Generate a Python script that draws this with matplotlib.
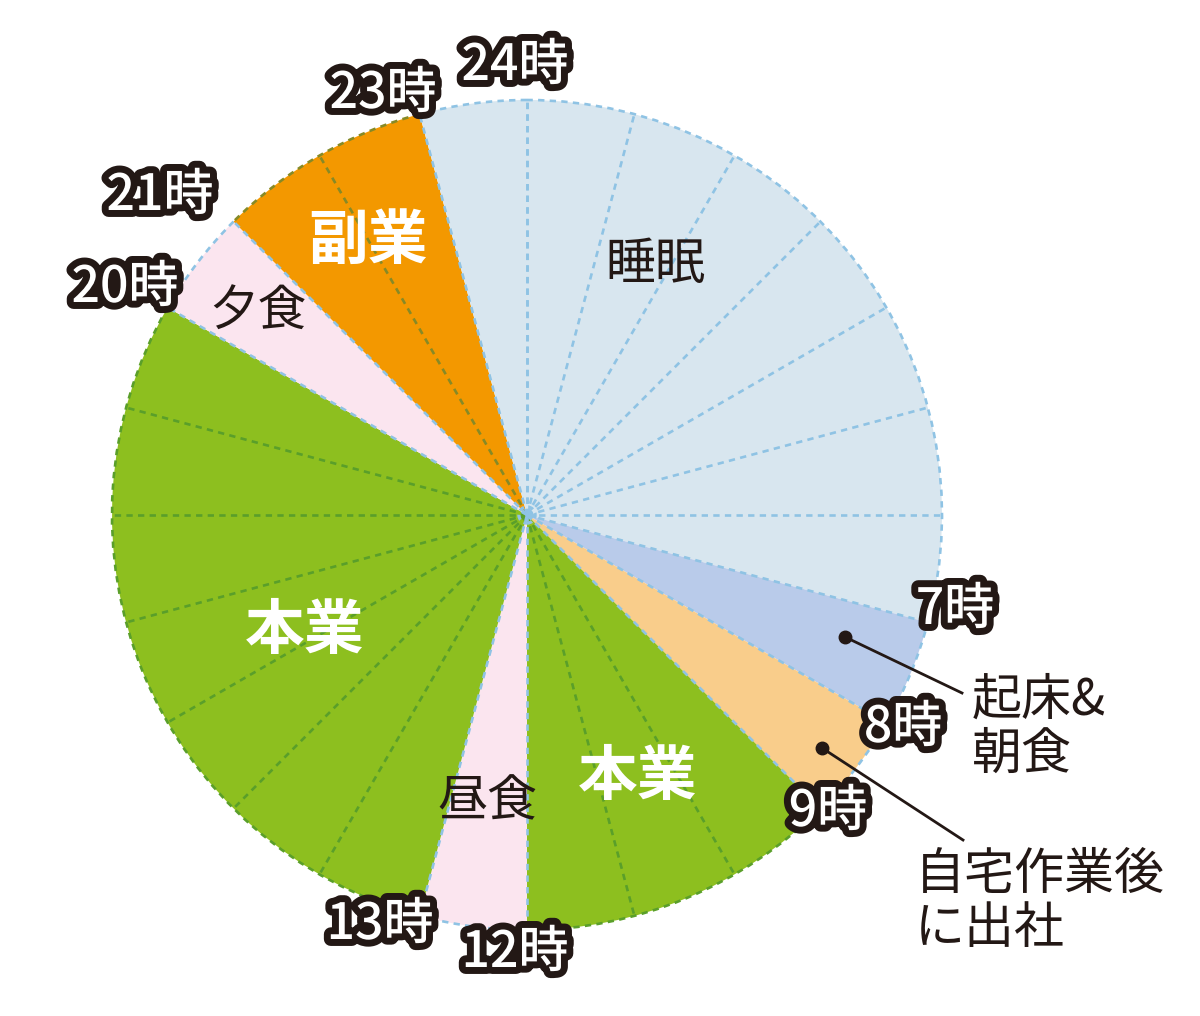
import numpy as np
import matplotlib
matplotlib.use("Agg")
import matplotlib.pyplot as plt
from matplotlib.patches import Arc, Circle
import matplotlib.patheffects as pe

plt.rcParams['font.family'] = ['Noto Sans CJK JP', 'DejaVu Sans']

# -------------------------------
# Data: one day, clockwise from 24時
# -------------------------------
activities = ["睡眠", "起床&朝食", "自宅作業後に出社", "本業", "昼食", "本業", "夕食", "副業", "睡眠"]
hours = [7, 1, 1, 3, 1, 7, 1, 2, 1]
colors = ["#d8e6ef", "#b9cbea", "#f9cd8b", "#8dbf1f", "#fbe5ef", "#8dbf1f", "#fbe5ef", "#f39800", "#d8e6ef"]
line_colors = ["#8fc3e4", "#8fc3e4", "#8fc3e4", "#5a9f2a", "#8fc3e4", "#5a9f2a", "#8fc3e4", "#868a26", "#8fc3e4"]

hour_marks = [24, 23, 21, 20, 7, 8, 9, 12, 13]

# -------------------------------
# Layout (image pixels, y up)
# -------------------------------
cx, cy, R = 527, 501, 415
mark_pos = [(515, 950), (383, 922), (160, 820), (125, 728), (955, 406),
            (903, 288), (828, 204), (515, 63), (380, 91)]

fig = plt.figure(figsize=(12, 10.16), dpi=100)
ax = fig.add_axes([0, 0, 1, 1])

wedges, _ = ax.pie(hours, colors=colors, startangle=90, counterclock=False,
                   center=(cx, cy), radius=R, wedgeprops=dict(linewidth=0))

ax.set_xlim(0, 1200)
ax.set_ylim(0, 1016)
ax.set_aspect("equal")
ax.axis("off")

# hour grid lines + outer arcs
bounds = np.concatenate([[0], np.cumsum(hours)])
dash = (0, (2.4, 2.0))
lw = 1.9
for i in range(len(hours)):
    h0, h1 = bounds[i], bounds[i + 1]
    ax.add_patch(Arc((cx, cy), 2 * R, 2 * R, theta1=90 - 15 * h1, theta2=90 - 15 * h0,
                     color=line_colors[i], lw=lw, linestyle=dash))
    for h in range(h0 + 1, h1):
        t = np.deg2rad(90 - 15 * h)
        ax.plot([cx, cx + R * np.cos(t)], [cy, cy + R * np.sin(t)],
                color=line_colors[i], lw=lw, linestyle=dash)
for h in bounds:
    t = np.deg2rad(90 - 15 * h)
    ax.plot([cx, cx + R * np.cos(t)], [cy, cy + R * np.sin(t)],
            color="#8fc3e4", lw=lw, linestyle=dash)
ax.add_patch(Circle((cx, cy), 8, fill=False, ec="#8fc3e4", lw=2.5, linestyle=(0, (1.5, 1.2))))

# hour labels
for h, (x, y) in zip(hour_marks, mark_pos):
    ax.text(x, y, f"{h}時", fontsize=36, fontweight="medium", color="white",
            ha="center", va="center",
            path_effects=[pe.withStroke(linewidth=10, foreground="#231815")])

# inside labels
ax.text(655, 751, activities[0], fontsize=36, color="#231815", ha="center", va="center")
ax.text(368, 774, activities[7], fontsize=43, fontweight="bold", color="white", ha="center", va="center")
ax.text(258, 704, activities[6], fontsize=35, color="#231815", ha="center", va="center")
ax.text(305, 384, activities[5], fontsize=43, fontweight="bold", color="white", ha="center", va="center")
ax.text(638, 238, activities[3], fontsize=43, fontweight="bold", color="white", ha="center", va="center")
ax.text(487, 214, activities[4], fontsize=36, color="#231815", ha="center", va="center")

# callouts
ax.plot([845, 962], [379, 323], color="#231815", lw=2)
ax.plot([845], [379], "o", color="#231815", ms=9)
ax.text(972, 288, "起床&\n朝食", fontsize=36, color="#231815",
        ha="left", va="center", linespacing=1.05)
ax.plot([822, 963], [268, 176], color="#231815", lw=2)
ax.plot([822], [268], "o", color="#231815", ms=9)
ax.text(915, 114, "自宅作業後\nに出社", fontsize=36, color="#231815",
        ha="left", va="center", linespacing=1.05)

plt.savefig("out.png", dpi=100)
